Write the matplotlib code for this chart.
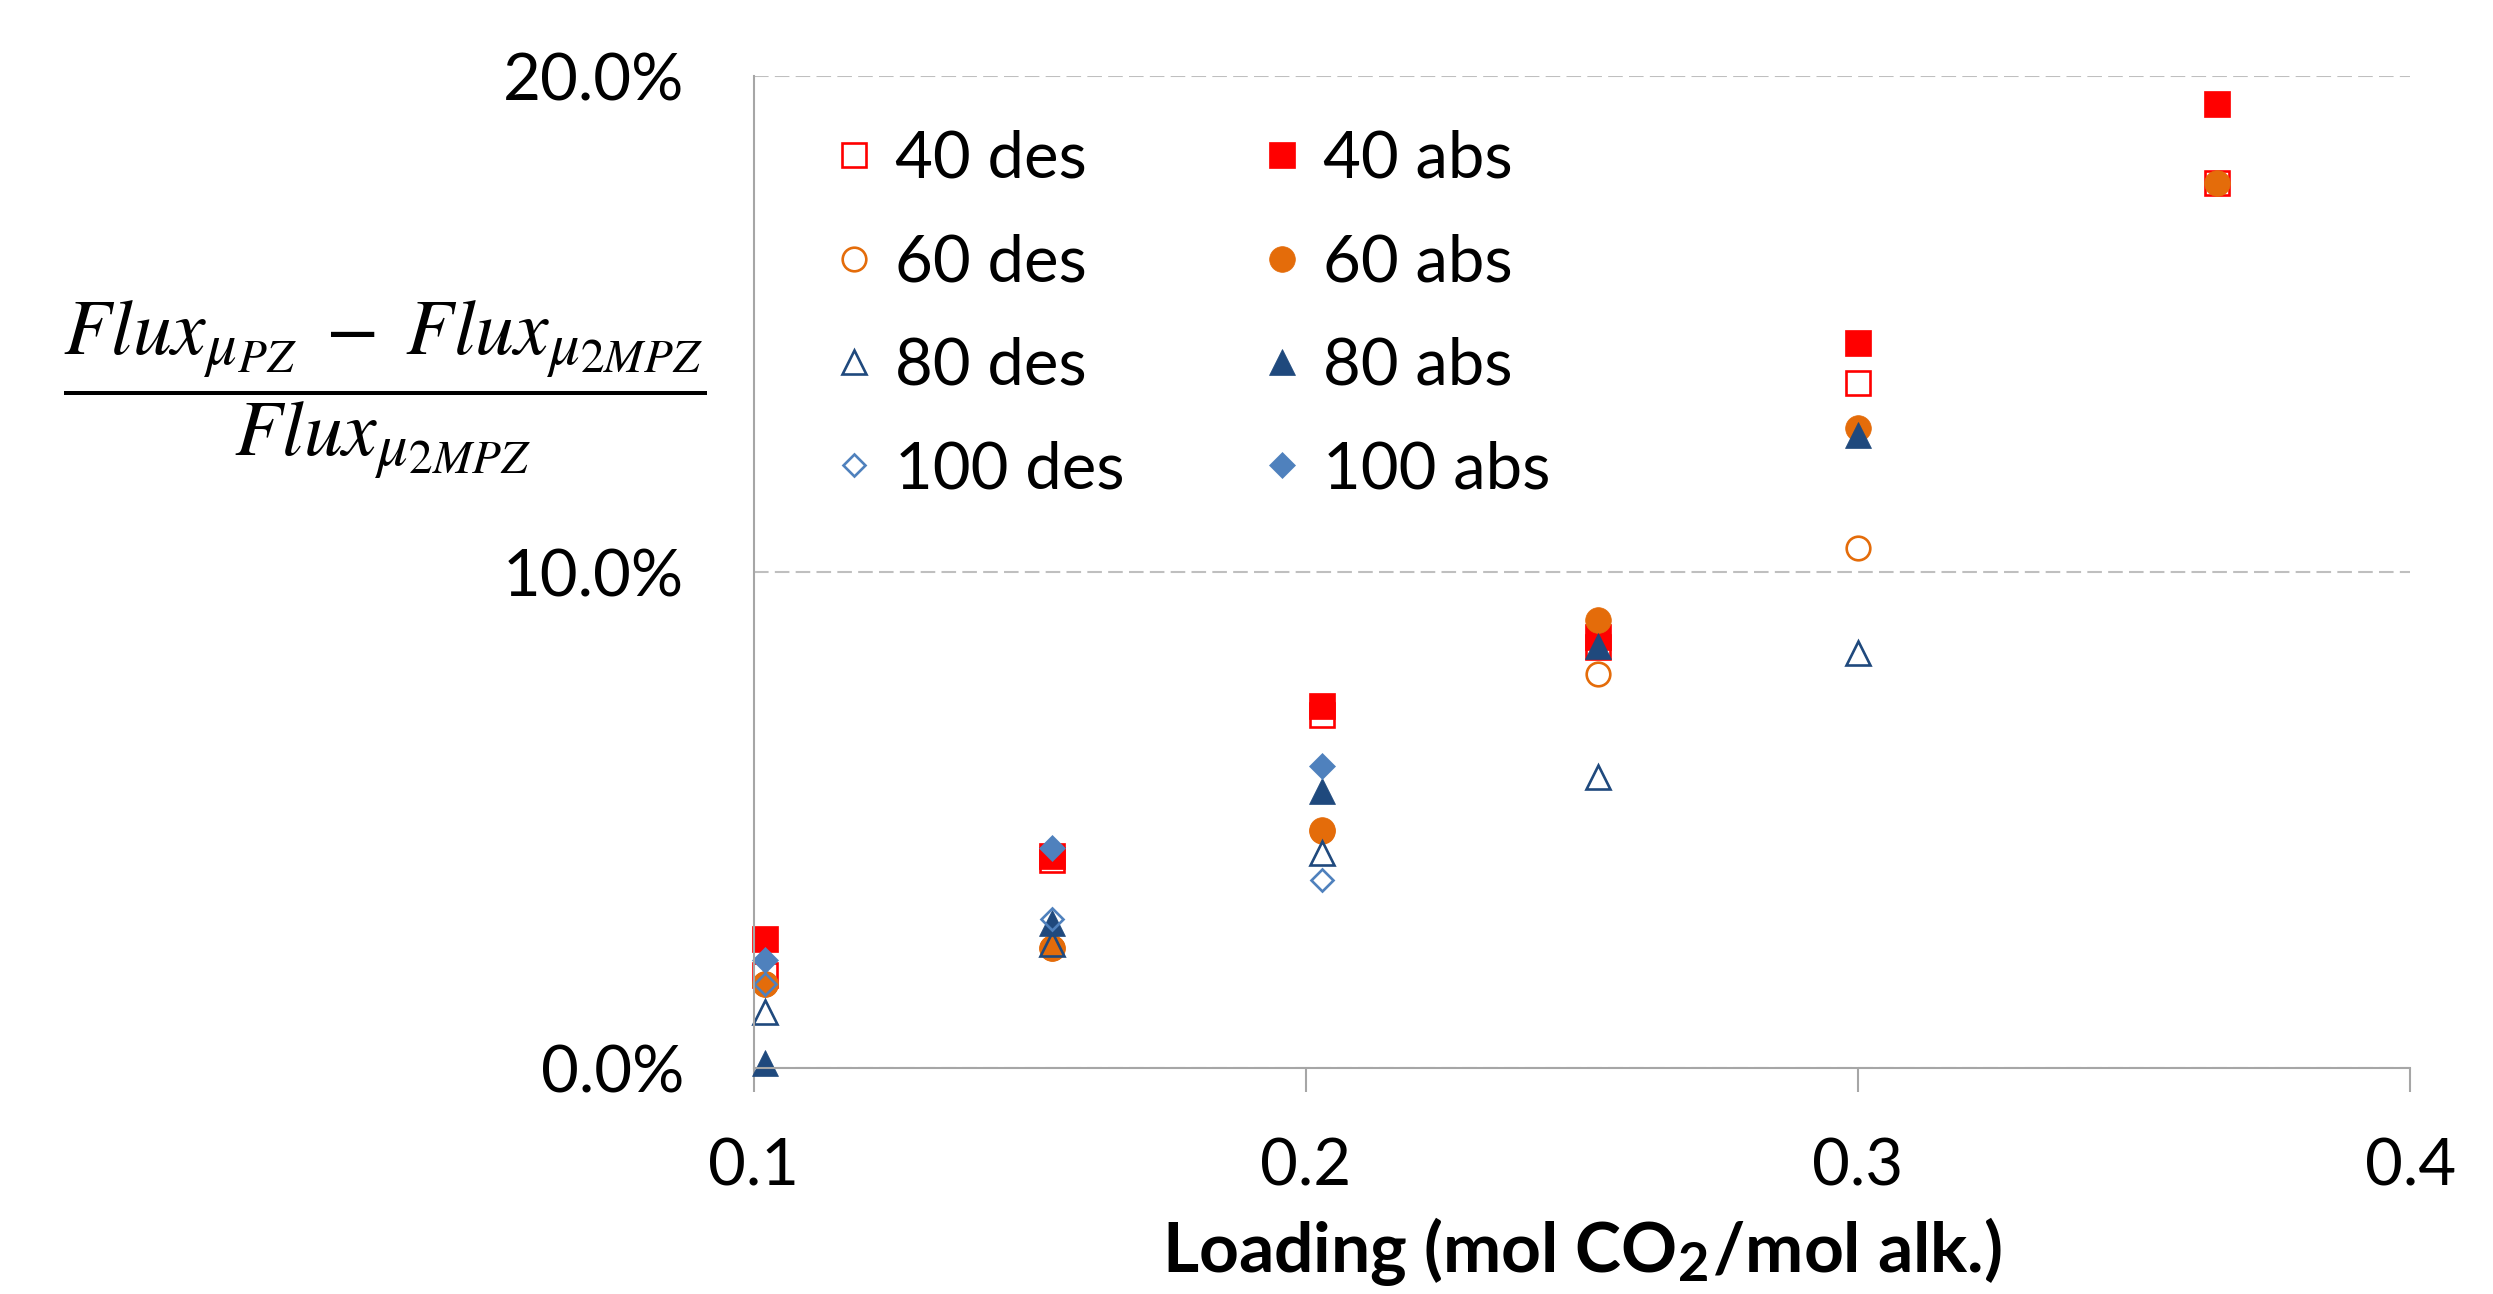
import numpy as np
import matplotlib
matplotlib.use('Agg')
from matplotlib import pyplot as plt
from matplotlib.ticker import PercentFormatter, FormatStrFormatter
import matplotlib._mathtext as mtext

plt.rcParams['font.family'] = ['Lato', 'DejaVu Sans']
plt.rcParams['mathtext.fontset'] = 'custom'
plt.rcParams['mathtext.rm'] = 'STIXGeneral'
plt.rcParams['mathtext.it'] = 'STIXGeneral:italic'
plt.rcParams['mathtext.bf'] = 'Lato:bold'
plt.rcParams['mathtext.fallback'] = 'stix'
# bigger sub/subsub scripts, closer to the Word equation look
mtext.SHRINK_FACTOR = 0.78

# loading values (mol CO2/mol alk.)
load_all = [0.102, 0.154, 0.203, 0.253, 0.300, 0.365]
load_100 = [0.102, 0.154, 0.203]

# relative flux difference, %
des_40 = [1.88, 4.21, 7.13, 8.50, 13.82, 17.84]
abs_40 = [2.61, 4.28, 7.31, 8.70, 14.62, 19.45]
des_60 = [1.70, 2.42, 4.78, 7.95, 10.49]
abs_60 = [1.70, 2.42, 4.80, 9.04, 12.91, 17.85]
des_80 = [1.14, 2.50, 4.34, 5.87, 8.37]
abs_80 = [0.11, 2.94, 5.60, 8.51, 12.76]
des_100 = [1.70, 3.02, 3.80]
abs_100 = [2.19, 4.45, 6.09]

red = '#FF0000'
orange = '#E46C0A'
navy = '#1F497D'
blue = '#4F81BD'

fig = plt.figure(figsize=(24.93, 12.94), dpi=100)
ax = fig.add_axes([0.3023, 0.1743, 0.6645, 0.7667])

ms = 18.5
mew = 1.9
series = [
    ('40 des', load_all, des_40, 's', red, False, ms),
    ('40 abs', load_all, abs_40, 's', red, True, ms),
    ('60 des', load_all[:5], des_60, 'o', orange, False, ms),
    ('60 abs', load_all, abs_60, 'o', orange, True, ms),
    ('80 des', load_all[:5], des_80, '^', navy, False, ms),
    ('80 abs', load_all[:5], abs_80, '^', navy, True, ms),
    ('100 des', load_100, des_100, 'D', blue, False, 13),
    ('100 abs', load_100, abs_100, 'D', blue, True, 13),
]
handles = {}
for name, xs, ys, mk, c, filled, size in series:
    if filled:
        h, = ax.plot(xs, ys, ls='none', marker=mk, ms=size, mfc=c, mec=c, mew=0.5, label=name, clip_on=False)
    else:
        h, = ax.plot(xs, ys, ls='none', marker=mk, ms=size - 1.5, mfc='none', mec=c, mew=mew, label=name, clip_on=False)
    handles[name] = h

ax.set_xlim(0.1, 0.4)
ax.set_ylim(0, 20)
ax.set_xticks([0.1, 0.2, 0.3, 0.4])
ax.set_yticks([0, 10, 20])
ax.xaxis.set_major_formatter(FormatStrFormatter('%.1f'))
ax.yaxis.set_major_formatter(PercentFormatter(xmax=100, decimals=1))

for s in ['top', 'right']:
    ax.spines[s].set_visible(False)
for s in ['left', 'bottom']:
    ax.spines[s].set_color('#A6A6A6')
    ax.spines[s].set_linewidth(1.5)

ax.yaxis.grid(True, color='#BFBFBF', lw=1.5, dashes=(7, 3))
ax.set_axisbelow(True)
ax.tick_params(axis='x', length=17, width=1.5, color='#A6A6A6', pad=33, labelsize=47)
ax.tick_params(axis='y', length=0, pad=50, labelsize=47)

ax.set_xlabel(r'Loading (mol CO$_\mathbf{2}$/mol alk.)', fontsize=50, fontweight='bold', labelpad=13)

fig.text(385 / 2493, 1 - 390 / 1294,
         r'$\dfrac{Flux_{\mu_{PZ}} \;-\; Flux_{\mu_{2MPZ}}}{Flux_{\mu_{2MPZ}}}$',
         fontsize=56, ha='center', va='center')

order = ['40 des', '60 des', '80 des', '100 des', '40 abs', '60 abs', '80 abs', '100 abs']
leg = fig.legend([handles[n] for n in order], order, ncol=2, loc='upper left',
                 bbox_to_anchor=(834 / 2493, 1 - 130 / 1294), frameon=False,
                 fontsize=47, handlelength=0.6, handletextpad=0.34,
                 columnspacing=2.1, labelspacing=0.68, borderpad=0, borderaxespad=0)

fig.savefig('out.png', dpi=100)
